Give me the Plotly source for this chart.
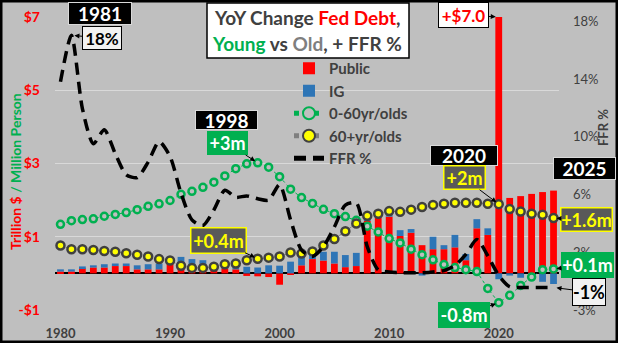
import plotly.graph_objects as go

# ---------------- data ----------------
years = list(range(1980, 2026))
public = [0.05, 0.05, 0.14, 0.16, 0.16, 0.20, 0.20, 0.11, 0.11, 0.11,
          0.26, 0.27, 0.22, 0.10, 0.11, 0.13, 0.11, -0.07, -0.08, -0.10,
          -0.31, -0.04, 0.22, 0.39, 0.35, 0.27, 0.17, 0.20, 1.43, 1.52,
          1.55, 1.02, 1.11, 0.77, 0.66, 0.66, 0.71, 0.36, 1.23, 1.05,
          7.00, 2.06, 2.11, 2.17, 2.22, 2.26]
ig = [0.06, 0.06, 0.05, 0.06, 0.09, 0.07, 0.07, 0.11, 0.14, 0.16,
      0.02, 0.18, 0.17, 0.26, 0.08, 0.08, 0.10, 0.18, 0.16, 0.22,
      0.21, 0.32, 0.30, 0.20, 0.24, 0.32, 0.33, 0.36, 0.21, 0.15,
      0.12, 0.16, 0.10, -0.06, 0.34, 0.11, 0.34, 0.17, 0.25, 0.18,
      -0.16, -0.06, -0.12, -0.04, -0.23, -0.29]
young = [1.34, 1.44, 1.47, 1.49, 1.56, 1.61, 1.66, 1.74, 1.83, 1.90,
         1.99, 2.16, 2.24, 2.35, 2.49, 2.66, 2.86, 2.99, 3.02, 2.90,
         2.64, 2.30, 2.07, 1.91, 1.75, 1.63, 1.55, 1.45, 1.29, 1.13,
         0.95, 0.83, 0.66, 0.51, 0.37, 0.24, 0.16, 0.10, 0.05, -0.41,
         -0.80, -0.60, -0.33, -0.10, 0.10, 0.12]
old = [0.76, 0.66, 0.66, 0.64, 0.61, 0.59, 0.55, 0.51, 0.46, 0.39,
       0.35, 0.21, 0.15, 0.15, 0.18, 0.25, 0.27, 0.36, 0.40, 0.43,
       0.46, 0.57, 0.54, 0.60, 0.76, 0.94, 1.15, 1.36, 1.57, 1.63,
       1.70, 1.68, 1.74, 1.81, 1.87, 1.90, 1.93, 1.93, 1.93, 1.90,
       1.89, 1.76, 1.69, 1.63, 1.60, 1.51]
ffr = [13.7, 17.0, 11.8, 9.3, 10.3, 8.6, 7.1, 6.9, 8.0, 9.45,
       8.4, 5.8, 3.9, 3.5, 4.6, 6.0, 5.5, 5.6, 5.4, 5.3,
       6.4, 3.9, 1.75, 1.3, 2.0, 3.4, 4.95, 5.1, 2.0, 0.35,
       0.2, 0.15, 0.15, 0.15, 0.2, 0.3, 0.65, 1.45, 2.5, 1.35,
       -0.05, -0.85, -0.9, -0.9, -0.9, -0.9]

left_ticks = [-1, 1, 3, 5, 7]
left_labels = ["-$1", "$1", "$3", "$5", "$7"]
right_ticks = [-2.5, 1.6, 5.7, 9.8, 13.9, 18.0]
right_labels = ["-3%", "2%", "6%", "10%", "14%", "18%"]
x_ticks = [1980, 1990, 2000, 2010, 2020]

# ---------------- layout constants ----------------
FW, FH = 618, 343
ML, MR, MT, MB = 55, 59, 17, 33
W, H = FW - ML - MR, FH - MT - MB
XR = [1979.5, 2025.5]
YR = [-1, 7]
Y2R = [-2.5, 18.3]
FONT = "Lato"
DARK = "#404040"
GREEN = "#00B050"
BG = "#BFBFBF"


def P(xp, yp):
    return (xp - ML) / W, 1 - (yp - MT) / H


def xpx(v):
    return ML + (v - XR[0]) / (XR[1] - XR[0]) * W


def ypx(v):
    return MT + (YR[1] - v) / (YR[1] - YR[0]) * H


def y2px(v):
    return MT + (Y2R[1] - v) / (Y2R[1] - Y2R[0]) * H


fig = go.Figure()
fig.add_trace(go.Bar(x=years, y=public, name="Public", marker_color="#FF0000",
                     width=0.62, marker_line_width=0))
fig.add_trace(go.Bar(x=years, y=ig, name="IG", marker_color="#2E75B6",
                     width=0.62, marker_line_width=0))
fig.add_trace(go.Scatter(x=years, y=young, name="0-60yr/olds", mode="lines+markers",
                         line=dict(color=GREEN, width=1, dash="dot"),
                         marker=dict(symbol="circle", size=7, color=BG,
                                     line=dict(color=GREEN, width=2.5))))
fig.add_trace(go.Scatter(x=years, y=old, name="60+yr/olds", mode="lines+markers",
                         line=dict(color="#7F7F7F", width=1, dash="dot"),
                         marker=dict(symbol="circle", size=8, color="#FFFF00",
                                     line=dict(color="#404040", width=2.5))))
fig.add_trace(go.Scatter(x=years, y=ffr, name="FFR %", mode="lines", yaxis="y2",
                         line=dict(color="black", width=3.5, dash="12px,7px",
                                   shape="spline", smoothing=0.7)))

fig.update_layout(
    width=FW, height=FH,
    margin=dict(l=ML, r=MR, t=MT, b=MB, pad=0, autoexpand=False),
    paper_bgcolor=BG, plot_bgcolor=BG,
    barmode="relative",
    font=dict(family=FONT, color=DARK),
    showlegend=True,
    legend=dict(x=P(289, 52)[0], y=P(289, 52)[1], xanchor="left", yanchor="top",
                bgcolor="rgba(0,0,0,0)", borderwidth=0, tracegroupgap=0,
                font=dict(family=FONT, size=15, color=DARK, weight="bold"),
                itemsizing="constant"),
    xaxis=dict(range=XR, tickvals=x_ticks, showgrid=False, zeroline=False,
               showline=False, ticks="", ticklabelstandoff=14, automargin=False,
               tickfont=dict(family=FONT, size=13, color=DARK, weight="bold")),
    yaxis=dict(range=YR, tickvals=left_ticks, ticktext=left_labels,
               showgrid=True, gridcolor="#D9D9D9", gridwidth=1,
               zeroline=True, zerolinecolor="black", zerolinewidth=1.5,
               showline=False, ticks="", ticklabelstandoff=14, automargin=False,
               tickfont=dict(family=FONT, size=14, color="#FF0000", weight="bold")),
    yaxis2=dict(range=Y2R, tickvals=right_ticks, ticktext=right_labels,
                overlaying="y", side="right", showgrid=False, zeroline=False,
                showline=False, ticks="", ticklabelstandoff=13, automargin=False,
                tickfont=dict(family=FONT, size=13, color=DARK)),
)

anns = []


def box(text, cx, cy, w, h, bg, fg, bc=None, bw=0, size=17):
    x, y = P(cx, cy)
    anns.append(dict(text=text, xref="paper", yref="paper", x=x, y=y,
                     xanchor="center", yanchor="middle", showarrow=False,
                     bgcolor=bg, bordercolor=bc or bg, borderwidth=bw, borderpad=0,
                     width=w - 2 * bw, height=h - 2 * bw, align="center", valign="middle",
                     font=dict(family=FONT, size=size, color=fg, weight="bold")))


def callout(text, xv, yv, yref, cx, cy, w, h, bg, fg, bc=None, bw=0, size=17):
    px_ = xpx(xv)
    py_ = ypx(yv) if yref == "y" else y2px(yv)
    anns.append(dict(text=text, xref="x", yref=yref, x=xv, y=yv,
                     ax=cx - px_, ay=cy - py_, axref="pixel", ayref="pixel",
                     showarrow=True, arrowhead=2, arrowsize=1, arrowwidth=1,
                     arrowcolor="black", standoff=3,
                     bgcolor=bg, bordercolor=bc or bg, borderwidth=bw, borderpad=0,
                     width=w - 2 * bw, height=h - 2 * bw, align="center", valign="middle",
                     font=dict(family=FONT, size=size, color=fg, weight="bold")))


# year boxes
box("1981", 100, 13, 64, 23, "black", "white", "#D9D9D9", 1, 19)
box("1998", 226, 120, 63, 20, "black", "white", "#D9D9D9", 1, 19)
box("2020", 464, 155, 68, 21, "black", "white", "#D9D9D9", 1, 19)
box("2025", 584, 169, 63, 23, "black", "white", "#D9D9D9", 1, 19)

i81, i98, i20, i25 = years.index(1981), years.index(1998), years.index(2020), years.index(2025)
callout("18%", years[i81], ffr[i81], "y2", 102, 38, 40, 24, "#F2F2F2", "black", "black", 1, 17)
callout("+3m", years[i98], young[i98], "y", 227, 143, 41, 24, GREEN, "white", None, 0, 18)
callout("+0.4m", years[i98], old[i98], "y", 218, 240, 57, 27, "#595959", "#FFFF00", "#FFFF00", 1.5, 18)
callout("+2m", years[i20], old[i20], "y", 464, 178, 43, 25, "#595959", "#FFFF00", "#FFFF00", 1.5, 18)
callout("+$7.0", years[i20], public[i20], "y", 463, 15, 51, 26, "white", "#FF0000", "black", 1, 17)
callout("-0.8m", years[i20], young[i20], "y", 464, 315, 52, 26, GREEN, "white", None, 0, 18)
callout("+1.6m", years[i25], old[i25], "y", 587, 220, 53, 25, "#595959", "#FFFF00", "#FFFF00", 1.5, 18)
callout("+0.1m", years[i25], young[i25], "y", 588, 265, 53, 26, GREEN, "white", None, 0, 18)
callout("-1%", years[i25], ffr[i25], "y2", 589, 292, 34, 28, "#F2F2F2", "black", "black", 1, 18)

# title
tx, ty1 = P(307, 17)
_, ty2 = P(307, 43)
anns.append(dict(text='YoY Change <span style="color:#FF0000">Fed Debt</span>,',
                 xref="paper", yref="paper", x=tx, y=ty1, showarrow=False,
                 xanchor="center", yanchor="middle",
                 font=dict(family=FONT, size=19, color=DARK, weight="bold")))
anns.append(dict(text='<span style="color:#00B050">Young</span> vs '
                      '<span style="color:#7F7F7F">Old</span>, + FFR %',
                 xref="paper", yref="paper", x=tx, y=ty2, showarrow=False,
                 xanchor="center", yanchor="middle",
                 font=dict(family=FONT, size=19, color=DARK, weight="bold")))

# axis titles
lx, ly = P(15, 172)
anns.append(dict(text='<span style="color:#FF0000">Trillion $</span>'
                      '<span style="color:#00B050"> / Million Person</span>',
                 xref="paper", yref="paper", x=lx, y=ly, showarrow=False,
                 textangle=-90, xanchor="center", yanchor="middle",
                 font=dict(family=FONT, size=14, weight="bold")))
rx, ry = P(603, 128)
anns.append(dict(text="FFR %", xref="paper", yref="paper", x=rx, y=ry, showarrow=False,
                 textangle=-90, xanchor="center", yanchor="middle",
                 font=dict(family=FONT, size=13, color=DARK, weight="bold")))

fig.update_layout(annotations=anns)

# title box + outer border
bx0, by0 = P(207, 58)
bx1, by1 = P(409, 3)
fig.add_shape(type="rect", xref="paper", yref="paper", x0=bx0, y0=by0, x1=bx1, y1=by1,
              fillcolor="white", line=dict(color="black", width=1.5), layer="above")
ox0, oy0 = P(1, FH - 1)
ox1, oy1 = P(FW - 1, 1)
fig.add_shape(type="rect", xref="paper", yref="paper", x0=ox0, y0=oy0, x1=ox1, y1=oy1,
              fillcolor="rgba(0,0,0,0)", line=dict(color="black", width=3), layer="above")

fig.write_html("out.html")
